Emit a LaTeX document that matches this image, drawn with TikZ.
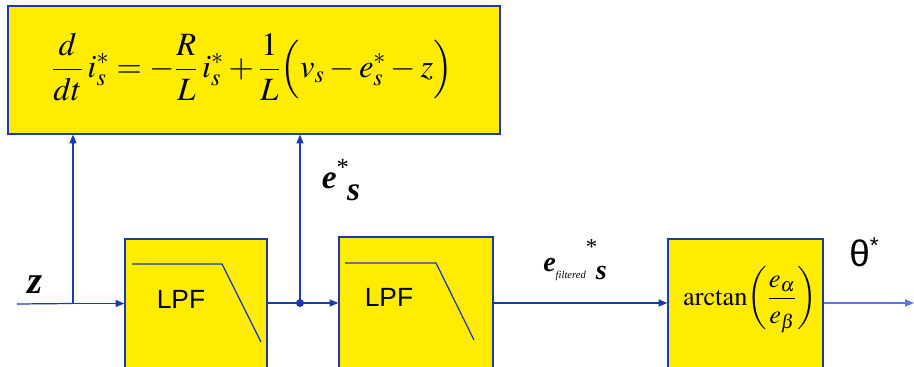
\documentclass[tikz,border=0pt]{standalone}
\usepackage{amsmath}
\usepackage{mathptmx}
\usepackage{fontspec}
\setmainfont{Liberation Serif}
\setsansfont{Liberation Sans}
\usepackage{xcolor}
\usepackage{tikz}
\usetikzlibrary{arrows.meta}

\definecolor{sigblue}{RGB}{30,58,170}
\definecolor{outblue}{RGB}{95,115,240}
\definecolor{boxyellow}{RGB}{255,236,0}
\newcommand{\bie}[1]{\textbf{\textit{#1}}}

\tikzset{
  block/.style={draw=sigblue,fill=boxyellow,line width=0.7pt,inner sep=0pt},
  sig/.style={sigblue,line width=0.7pt},
  sigarrow/.style={sig,-{Triangle[length=5pt,width=4pt]}},
  lpfcurve/.style={sigblue,line width=0.7pt}
}

\begin{document}
\begin{tikzpicture}[x=0.02cm,y=-0.02cm]
  \useasboundingbox (0,0) rectangle (914,367);
  \clip (0,0) rectangle (914,367);
  % blocks
  \node[block,minimum width=9.84cm,minimum height=2.56cm] (model) at (254,70) {};
  \node[block,minimum width=2.84cm,minimum height=2.82cm] (lpfA) at (196,309.5) {};
  \node[block,minimum width=3.08cm,minimum height=2.86cm] (lpfB) at (416,308.5) {};
  \node[block,minimum width=3.10cm,minimum height=2.82cm] (atan) at (745.5,309.5) {};
  \node (eq) at (252,67) {\fontsize{18.5}{22}\selectfont
    $\displaystyle \frac{d}{dt}\,i^{*}_{s}=-\frac{R}{L}\,i^{*}_{s}+\frac{1}{L}\Bigl(v_{s}-e^{*}_{s}-z\Bigr)$};
  % filter shapes
  \draw[lpfcurve] (132,264) -- (222,264) -- (261,342);
  \draw[lpfcurve] (345,263) -- (436,263) -- (474,340);
  \node[font=\sffamily\fontsize{15}{18}\selectfont] (lpfAtext) at (181,299) {LPF};
  \node[font=\sffamily\fontsize{15}{18}\selectfont] (lpfBtext) at (389,297) {LPF};
  \node (atantext) at (750,300) {\fontsize{15}{18}\selectfont
    $\displaystyle \mathrm{arctan}\!\left(\frac{e_{\alpha}}{e_{\beta}}\right)$};
  % signals
  \coordinate (zin) at (17,304);
  \coordinate (zsplit) at (73,303.5);
  \coordinate (esplit) at (300,303);
  \coordinate (thout) at (914,303);
  \draw[sig] (zin) -- (zsplit);
  \draw[sigarrow] (zsplit) -- (zsplit -| lpfA.west);
  \draw[sigarrow] (zsplit) -- (zsplit |- model.south);
  \draw[sig] (esplit -| lpfA.east) -- (esplit);
  \draw[sigarrow] (esplit) -- (esplit -| lpfB.west);
  \draw[sigarrow] (esplit) -- (esplit |- model.south);
  \fill[sigblue] (esplit) circle (4);
  \draw[sigarrow] (esplit -| lpfB.east) -- (esplit -| atan.west);
  \draw[outblue,line width=0.7pt,-{Triangle[length=5pt,width=4pt]}] (esplit -| atan.east) -- (thout);
  % labels
  \node[font=\fontsize{22}{26}\selectfont] (zlab) at (35,285) {\bie{z}};
  \node[font=\fontsize{19}{22}\selectfont] (elab) at (341,180) {\bie{e}\raisebox{0.4em}{\fontsize{14}{16}\selectfont*}\hspace{-0.05em}\raisebox{-0.35em}{\bie{s}}};
  \node[font=\fontsize{16}{19}\selectfont] (eflab) at (575,260) {\bie{e}\raisebox{-0.25em}{\fontsize{6}{7}\selectfont\itshape filtered}\raisebox{0.6em}{\fontsize{13}{15}\selectfont*}\hspace{-0.05em}\raisebox{-0.3em}{\bie{s}}};
  \node[font=\sffamily\fontsize{21}{24}\selectfont] (thlab) at (864,252) {θ\raisebox{0.35em}{\fontsize{13}{15}\selectfont*}};
\end{tikzpicture}
\end{document}
